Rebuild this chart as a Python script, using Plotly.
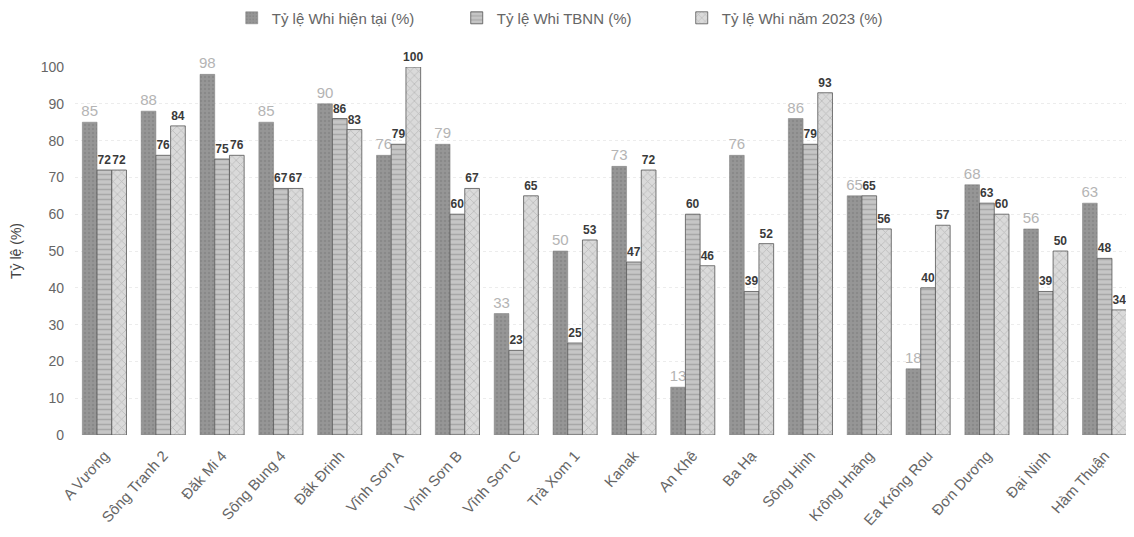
import plotly.graph_objects as go

categories = ["A Vương", "Sông Tranh 2", "Đăk Mi 4", "Sông Bung 4", "Đăk Đrinh",
              "Vĩnh Sơn A", "Vĩnh Sơn B", "Vĩnh Sơn C", "Trà Xom 1", "Kanak",
              "An Khê", "Ba Hạ", "Sông Hinh", "Krông Hnăng", "Ea Krông Rou",
              "Đơn Dương", "Đại Ninh", "Hàm Thuận"]
current = [85, 88, 98, 85, 90, 76, 79, 33, 50, 73, 13, 76, 86, 65, 18, 68, 56, 63]
tbnn = [72, 76, 75, 67, 86, 79, 60, 23, 25, 47, 60, 39, 79, 65, 40, 63, 39, 48]
y2023 = [72, 84, 76, 67, 83, 100, 67, 65, 53, 72, 46, 52, 93, 56, 57, 60, 50, 34]
names = ["Tỷ lệ Whi hiện tại (%)", "Tỷ lệ Whi TBNN (%)", "Tỷ lệ Whi năm 2023 (%)"]
y_ticks = [0, 10, 20, 30, 40, 50, 60, 70, 80, 90, 100]

FONT = "Liberation Sans, Arial, sans-serif"

fig = go.Figure()
fig.add_trace(go.Bar(
    x=categories, y=current, name=names[0],
    marker=dict(color="#8e8e8e", line=dict(color="#7a7a7a", width=0.5),
                pattern=dict(shape=".", fgcolor="#7c7c7c", bgcolor="#969696", size=4, solidity=0.3)),
    text=[str(v) for v in current], textposition="outside", constraintext="none",
    cliponaxis=False,
    textfont=dict(color="#b4b4b4", size=15, family=FONT),
))
fig.add_trace(go.Bar(
    x=categories, y=tbnn, name=names[1],
    marker=dict(color="#bdbdbd", line=dict(color="#555555", width=0.8),
                pattern=dict(shape="-", fgcolor="#8a8a8a", bgcolor="#c6c6c6", size=5, solidity=0.3)),
    text=[str(v) for v in tbnn], textposition="outside", constraintext="none",
    cliponaxis=False,
    textfont=dict(color="#3a3a3a", size=12, family=FONT, weight="bold"),
))
fig.add_trace(go.Bar(
    x=categories, y=y2023, name=names[2],
    marker=dict(color="#d2d2d2", line=dict(color="#555555", width=0.8),
                pattern=dict(shape="x", fgcolor="#9a9a9a", bgcolor="#dadada", size=6, solidity=0.25)),
    text=[str(v) for v in y2023], textposition="outside", constraintext="none",
    cliponaxis=False,
    textfont=dict(color="#3a3a3a", size=12, family=FONT, weight="bold"),
))

fig.update_layout(
    width=1126, height=529,
    margin=dict(l=67, r=0, t=59, b=102, autoexpand=False),
    paper_bgcolor="white", plot_bgcolor="white",
    barmode="group", bargap=0.25, bargroupgap=0.0,
    font=dict(family=FONT, color="#555555", size=13),
    legend=dict(orientation="h", x=0.148, xanchor="left", y=1.133, yanchor="middle",
                font=dict(size=15, color="#666666"), itemwidth=30,
                entrywidth=180, entrywidthmode="pixels",
                traceorder="normal"),
    showlegend=True,
)
fig.update_yaxes(
    range=[0, 100], tickvals=y_ticks, ticktext=[str(v) for v in y_ticks],
    showgrid=True, gridcolor="#ececec", griddash="dot", gridwidth=1,
    zeroline=False, showline=False, automargin=False,
    ticklabelstandoff=10,
    tickfont=dict(size=14, color="#666666"),
    title=dict(text="Tỷ lệ (%)", font=dict(size=14, color="#444444"), standoff=18),
)
fig.update_xaxes(
    tickangle=-48, tickfont=dict(size=15, color="#666666"),
    showline=False, showgrid=False, ticks="", automargin=False,
    ticklabelstandoff=8,
)

fig.write_html("out.html")
